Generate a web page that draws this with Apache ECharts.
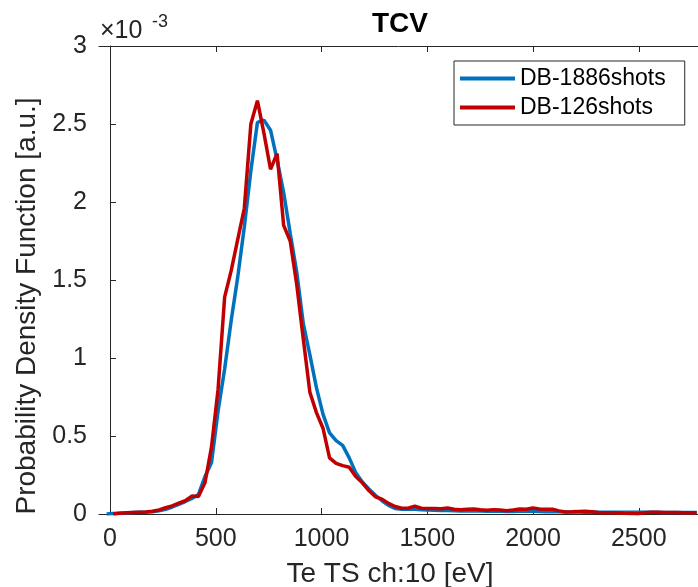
<!DOCTYPE html>
<html>
<head>
<meta charset="utf-8">
<script src="https://cdn.jsdelivr.net/npm/echarts@6/dist/echarts.min.js"></script>
<style>
html,body{margin:0;padding:0;background:#fff;}
#chart{width:698px;height:587px;}
</style>
</head>
<body>
<div id="chart"></div>
<script>
// Te bin centres [eV]
const xEV = [-16, 15, 46, 77, 108, 139, 170, 201, 232, 263, 294, 325, 356, 387, 418, 449, 480, 511, 542, 573,
  604, 635, 666, 697, 728, 759, 790, 821, 852, 883, 914, 945, 976, 1007, 1038, 1069, 1100, 1131, 1162, 1193,
  1224, 1255, 1286, 1317, 1348, 1379, 1410, 1441, 1472, 1503, 1534, 1565, 1596, 1627, 1658, 1689, 1720, 1751, 1782, 1813,
  1844, 1875, 1906, 1937, 1968, 1999, 2030, 2061, 2092, 2123, 2154, 2185, 2216, 2247, 2278, 2309, 2340, 2371, 2402, 2433,
  2464, 2495, 2526, 2557, 2588, 2619, 2650, 2681, 2712, 2743, 2774];

// PDF values in units of 1e-3
const pdfBlue = [0, 0.003, 0.005, 0.007, 0.009, 0.011, 0.012, 0.015, 0.02, 0.03, 0.045, 0.062, 0.08, 0.1, 0.125, 0.24, 0.33, 0.66, 0.93, 1.24,
  1.52, 1.84, 2.2, 2.51, 2.525, 2.46, 2.27, 2.06, 1.8, 1.55, 1.22, 1.02, 0.81, 0.64, 0.52, 0.47, 0.44, 0.36, 0.265, 0.205,
  0.16, 0.12, 0.085, 0.055, 0.035, 0.03, 0.03, 0.03, 0.028, 0.025, 0.024, 0.022, 0.022, 0.021, 0.02, 0.02, 0.02, 0.019, 0.018, 0.018,
  0.017, 0.016, 0.016, 0.017, 0.017, 0.018, 0.016, 0.015, 0.015, 0.014, 0.013, 0.013, 0.013, 0.012, 0.012, 0.012, 0.012, 0.011, 0.011, 0.011,
  0.011, 0.012, 0.011, 0.011, 0.011, 0.01, 0.01, 0.01, 0.009, 0.009, 0.009];

const pdfRed = [null, 0.0, 0.005, 0.008, 0.01, 0.012, 0.013, 0.018, 0.026, 0.04, 0.052, 0.07, 0.085, 0.115, 0.112, 0.2, 0.43, 0.8, 1.39, 1.56,
  1.76, 1.96, 2.5, 2.65, 2.44, 2.21, 2.31, 1.85, 1.75, 1.47, 1.12, 0.78, 0.65, 0.55, 0.36, 0.325, 0.31, 0.3, 0.24, 0.2,
  0.15, 0.11, 0.095, 0.068, 0.048, 0.037, 0.037, 0.05, 0.037, 0.036, 0.035, 0.034, 0.038, 0.03, 0.027, 0.03, 0.032, 0.027, 0.024, 0.028,
  0.025, 0.021, 0.025, 0.032, 0.03, 0.038, 0.032, 0.031, 0.03, 0.02, 0.013, 0.014, 0.016, 0.017, 0.015, 0.01, 0.008, 0.008, 0.007, 0.005,
  0.004, 0.002, 0.008, 0.012, 0.012, 0.01, 0.01, 0.009, 0.008, 0.008, 0.008];

const seriesNames = ['DB-1886shots', 'DB-126shots'];
const xTicks = [0, 500, 1000, 1500, 2000, 2500];
const FONT = "'Liberation Sans', Arial, Helvetica, sans-serif";
const AX = '#262626';

function pairs(ys) {
  const out = [];
  xEV.forEach((x, i) => { if (ys[i] !== null) out.push([x, ys[i]]); });
  return out;
}

const chart = echarts.init(document.getElementById('chart'), null, {renderer: 'canvas'});
const xCommon = {
  type: 'value', min: -52, max: 2780,
  axisLine: {show: true, onZero: false, lineStyle: {color: AX, width: 1}},
  axisTick: {show: true, inside: true, length: 6, customValues: xTicks, lineStyle: {color: AX}},
  splitLine: {show: false}
};
chart.setOption({
  animation: false,
  backgroundColor: '#fff',
  grid: {left: 99, top: 46, width: 602, height: 468, containLabel: false},
  xAxis: [
    Object.assign({}, xCommon, {
      position: 'bottom',
      axisLabel: {show: true, customValues: xTicks, margin: 13, color: AX, fontSize: 25, fontFamily: FONT,
                  formatter: v => String(v)}
    }),
    Object.assign({}, xCommon, {position: 'top', axisLabel: {show: false}})
  ],
  yAxis: {
    type: 'value', min: 0, max: 3, interval: 0.5,
    axisLine: {show: true, lineStyle: {color: AX, width: 1}},
    axisTick: {show: true, inside: true, length: 6, lineStyle: {color: AX}},
    axisLabel: {margin: 12, color: AX, fontSize: 25, fontFamily: FONT, formatter: v => String(v)},
    splitLine: {show: false}
  },
  legend: {
    orient: 'vertical', left: 454, top: 61,
    padding: [6, 19, 6, 6], itemGap: 6,
    itemWidth: 55, itemHeight: 4, icon: 'rect',
    backgroundColor: '#fff', borderColor: AX, borderWidth: 1,
    textStyle: {fontSize: 23, color: '#000', fontFamily: FONT},
    data: seriesNames
  },
  graphic: [
    {type: 'text', style: {text: 'TCV', x: 400, y: 24, align: 'center', verticalAlign: 'middle', font: "bold 28px " + FONT, fill: '#000'}},
    {type: 'text', style: {text: 'Te TS ch:10 [eV]', x: 390, y: 574, align: 'center', verticalAlign: 'middle', font: "28px " + FONT, fill: AX}},
    {type: 'text', x: 27, y: 306, rotation: Math.PI / 2, style: {text: 'Probability Density Function [a.u.]', x: 0, y: 0, align: 'center', verticalAlign: 'middle', font: "28px " + FONT, fill: AX}},
    {type: 'text', style: {text: '×10', x: 100, y: 31, align: 'left', verticalAlign: 'middle', font: "25px " + FONT, fill: AX}},
    {type: 'text', style: {text: '-3', x: 152, y: 22, align: 'left', verticalAlign: 'middle', font: "18px " + FONT, fill: AX}}
  ],
  series: [
    {name: seriesNames[0], type: 'line', data: pairs(pdfBlue), showSymbol: false, symbol: 'none',
     lineStyle: {color: '#0072BD', width: 3.5}, itemStyle: {color: '#0072BD'}, z: 2},
    {name: seriesNames[1], type: 'line', data: pairs(pdfRed), showSymbol: false, symbol: 'none',
     lineStyle: {color: '#C00000', width: 3.5}, itemStyle: {color: '#C00000'}, z: 3}
  ]
});
</script>
</body>
</html>
